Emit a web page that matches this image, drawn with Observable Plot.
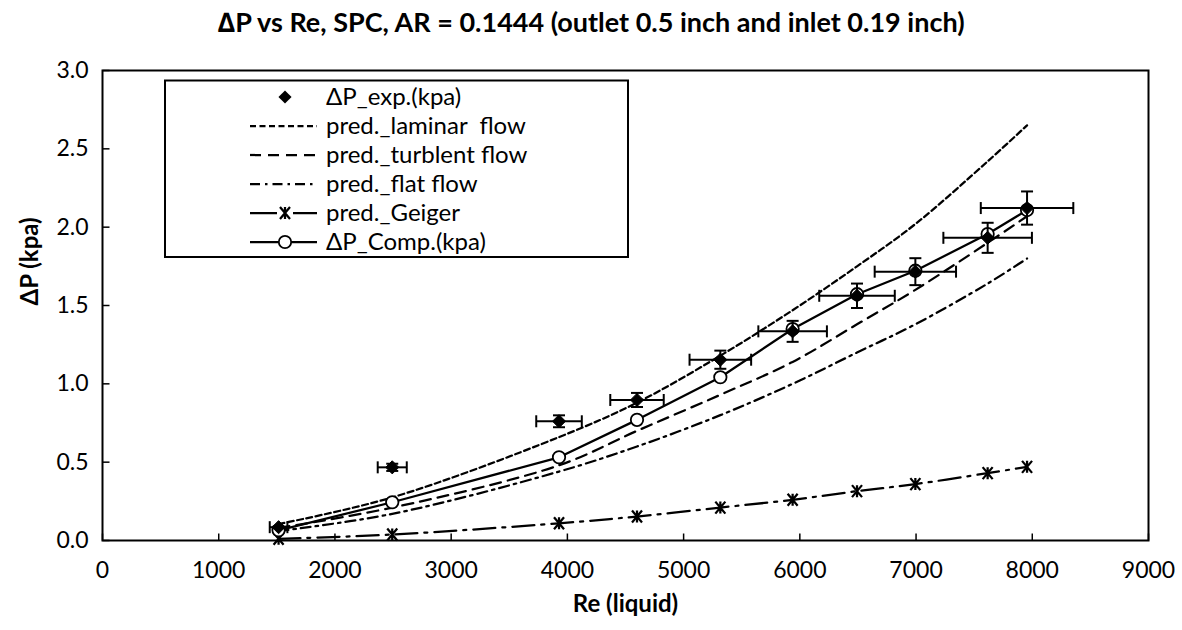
<!DOCTYPE html>
<html><head><meta charset="utf-8">
<script src="https://cdn.jsdelivr.net/npm/d3@7"></script>
<script src="https://cdn.jsdelivr.net/npm/@observablehq/plot@0.6"></script>
<style>
body{margin:0;background:#fff;}
#wrap{position:relative;width:1182px;height:630px;font-family:Lato,"Open Sans",sans-serif;color:#000;}
#title{position:absolute;left:0;top:6px;width:1182px;text-align:center;font-weight:bold;font-size:27px;line-height:32px;}
#legend{position:absolute;left:0;top:0;}
svg{display:block;}
</style></head><body>
<div id="wrap"><div id="chart"></div><div id="title">∆P vs Re, SPC, AR = 0.1444 (outlet 0.5 inch and inlet 0.19 inch)</div></div>
<script>
// ---- data ----
const re        = [1515, 2493, 3928, 4599, 5316, 5938, 6492, 6994, 7616, 7955];
const expDP     = [0.085, 0.467, 0.761, 0.897, 1.154, 1.335, 1.562, 1.716, 1.932, 2.122];
const reErr     = [76, 125, 196, 230, 265, 295, 325, 350, 381, 398];
const dpErr     = [0.004, 0.023, 0.038, 0.045, 0.058, 0.067, 0.078, 0.086, 0.096, 0.106];
const laminar   = [0.105, 0.275, 0.66, 0.88, 1.18, 1.47, 1.75, 2.02, 2.42, 2.65];
const turbulent = [0.08, 0.21, 0.48, 0.70, 0.93, 1.14, 1.38, 1.60, 1.90, 2.07];
const flat      = [0.06, 0.17, 0.44, 0.60, 0.80, 1.00, 1.20, 1.38, 1.64, 1.80];
const geiger    = [0.011, 0.038, 0.110, 0.153, 0.21, 0.26, 0.315, 0.36, 0.43, 0.47];
const compDP    = [0.065, 0.244, 0.531, 0.770, 1.042, 1.350, 1.572, 1.722, 1.956, 2.109];
const xTicks    = [0, 1000, 2000, 3000, 4000, 5000, 6000, 7000, 8000, 9000];
const yTicks    = [0, 0.5, 1.0, 1.5, 2.0, 2.5, 3.0];
const legendLabels = ["ΔP_exp.(kpa)", "pred._laminar  flow", "pred._turblent flow", "pred._flat flow", "pred._Geiger", "ΔP_Comp.(kpa)"];

const rows = re.map((r, i) => ({re: r, exp: expDP[i], rErr: reErr[i], dErr: dpErr[i],
  lam: laminar[i], tur: turbulent[i], flat: flat[i], gei: geiger[i], comp: compDP[i]}));

const FONT = 'Lato, "Open Sans", sans-serif';
const dash = {lam: "6,3.5", tur: "11,7", flat: "10,5,2.5,5", gei: "22,7,3,7"};

// custom symbols for caps, inward ticks and the Excel-like star marker
const capV = {draw(ctx){ ctx.moveTo(0, -6); ctx.lineTo(0, 6); }};
const capH = {draw(ctx){ ctx.moveTo(-6, 0); ctx.lineTo(6, 0); }};
const tickUp = {draw(ctx){ ctx.moveTo(0, 0); ctx.lineTo(0, -7); }};
const tickRight = {draw(ctx){ ctx.moveTo(0, 0); ctx.lineTo(7, 0); }};
const star = {draw(ctx){
  ctx.moveTo(-5, -6); ctx.lineTo(5, 6);
  ctx.moveTo(5, -6); ctx.lineTo(-5, 6);
  ctx.moveTo(0, -6); ctx.lineTo(0, 6);
}};

const chart = Plot.plot({
  width: 1182, height: 630,
  marginLeft: 102, marginRight: 34, marginTop: 70, marginBottom: 90,
  style: {fontFamily: FONT, fontSize: "23px", color: "black", background: "white", overflow: "visible"},
  x: {domain: [0, 9000]},
  y: {domain: [0, 3]},
  marks: [
    Plot.axisX({ticks: xTicks, tickSize: 0, tickPadding: 21, tickFormat: d => String(d), label: null}),
    Plot.axisY({ticks: yTicks, tickSize: 0, tickPadding: 14, tickFormat: d => d.toFixed(1), label: null}),
    Plot.dot(xTicks, {x: d => d, y: () => 0, symbol: tickUp, stroke: "black", fill: "none", strokeWidth: 1.5}),
    Plot.dot(yTicks, {x: () => 0, y: d => d, symbol: tickRight, stroke: "black", fill: "none", strokeWidth: 1.5}),
    Plot.text(["Re (liquid)"], {frameAnchor: "bottom", dy: 71, fontWeight: "bold", fontSize: 24}),
    Plot.text(["ΔP (kpa)"], {frameAnchor: "left", dx: -72, rotate: -90, fontWeight: "bold", fontSize: 24}),
    // predicted curves
    Plot.line(rows, {x: "re", y: "lam", curve: "catmull-rom", stroke: "black", strokeWidth: 2.25, strokeDasharray: dash.lam}),
    Plot.line(rows, {x: "re", y: "tur", curve: "catmull-rom", stroke: "black", strokeWidth: 2.25, strokeDasharray: dash.tur}),
    Plot.line(rows, {x: "re", y: "flat", curve: "catmull-rom", stroke: "black", strokeWidth: 2.25, strokeDasharray: dash.flat}),
    Plot.line(rows, {x: "re", y: "gei", curve: "catmull-rom", stroke: "black", strokeWidth: 2.25, strokeDasharray: dash.gei}),
    Plot.dot(rows, {x: "re", y: "gei", symbol: star, stroke: "black", fill: "none", strokeWidth: 2.25}),
    // computed
    Plot.line(rows, {x: "re", y: "comp", stroke: "black", strokeWidth: 2.25}),
    Plot.dot(rows, {x: "re", y: "comp", r: 6.2, fill: "white", stroke: "black", strokeWidth: 1.8}),
    // experimental error bars
    Plot.link(rows, {x1: d => d.re - d.rErr, x2: d => d.re + d.rErr, y1: "exp", y2: "exp", stroke: "black", strokeWidth: 2}),
    Plot.link(rows, {x1: "re", x2: "re", y1: d => d.exp - d.dErr, y2: d => d.exp + d.dErr, stroke: "black", strokeWidth: 2}),
    Plot.dot(rows, {x: d => d.re - d.rErr, y: "exp", symbol: capV, stroke: "black", fill: "none", strokeWidth: 2}),
    Plot.dot(rows, {x: d => d.re + d.rErr, y: "exp", symbol: capV, stroke: "black", fill: "none", strokeWidth: 2}),
    Plot.dot(rows, {x: "re", y: d => d.exp - d.dErr, symbol: capH, stroke: "black", fill: "none", strokeWidth: 2}),
    Plot.dot(rows, {x: "re", y: d => d.exp + d.dErr, symbol: capH, stroke: "black", fill: "none", strokeWidth: 2}),
    Plot.dot(rows, {x: "re", y: "exp", symbol: "diamond2", r: 5.9, fill: "black", stroke: "black", strokeWidth: 1}),
    Plot.frame({stroke: "black", strokeWidth: 2})
  ]
});
document.getElementById("chart").appendChild(chart);

// ---- legend (drawn as overlay svg) ----
const lg = d3.select("#wrap").append("svg").attr("id", "legend")
  .attr("width", 1182).attr("height", 630)
  .style("font-family", FONT).style("font-size", "24px");
lg.append("rect").attr("x", 165).attr("y", 80.5).attr("width", 463).attr("height", 176.5)
  .attr("fill", "white").attr("stroke", "black").attr("stroke-width", 2);
const rowY = i => 97 + i * 29;
const lx1 = 250, lx2 = 317, sx = 285;
const dashes = [null, dash.lam, dash.tur, dash.flat, null, null];
legendLabels.forEach((t, i) => {
  const y = rowY(i);
  if (i > 0) {
    const l = lg.append("line").attr("x1", lx1).attr("x2", lx2).attr("y1", y).attr("y2", y)
      .attr("stroke", "black").attr("stroke-width", 2.25);
    if (dashes[i]) l.attr("stroke-dasharray", dashes[i]);
  }
  if (i === 0) lg.append("path").attr("d", d3.symbol(d3.symbolDiamond2, Math.PI * 5.9 * 5.9)()).attr("transform", `translate(${sx},${y})`).attr("fill", "black");
  if (i === 4) {
    lg.append("rect").attr("x", sx - 8).attr("y", y - 8).attr("width", 16).attr("height", 16).attr("fill", "white");
    lg.append("path").attr("d", "M-5,-6L5,6M5,-6L-5,6M0,-6L0,6").attr("transform", `translate(${sx},${y})`).attr("fill", "none").attr("stroke", "black").attr("stroke-width", 2.25);
  }
  if (i === 5) lg.append("circle").attr("cx", sx).attr("cy", y).attr("r", 6.2).attr("fill", "white").attr("stroke", "black").attr("stroke-width", 1.8);
  lg.append("text").attr("x", 326).attr("y", y).attr("dy", "0.35em").attr("xml:space", "preserve").style("white-space", "pre").text(t);
});
</script>
</body></html>
